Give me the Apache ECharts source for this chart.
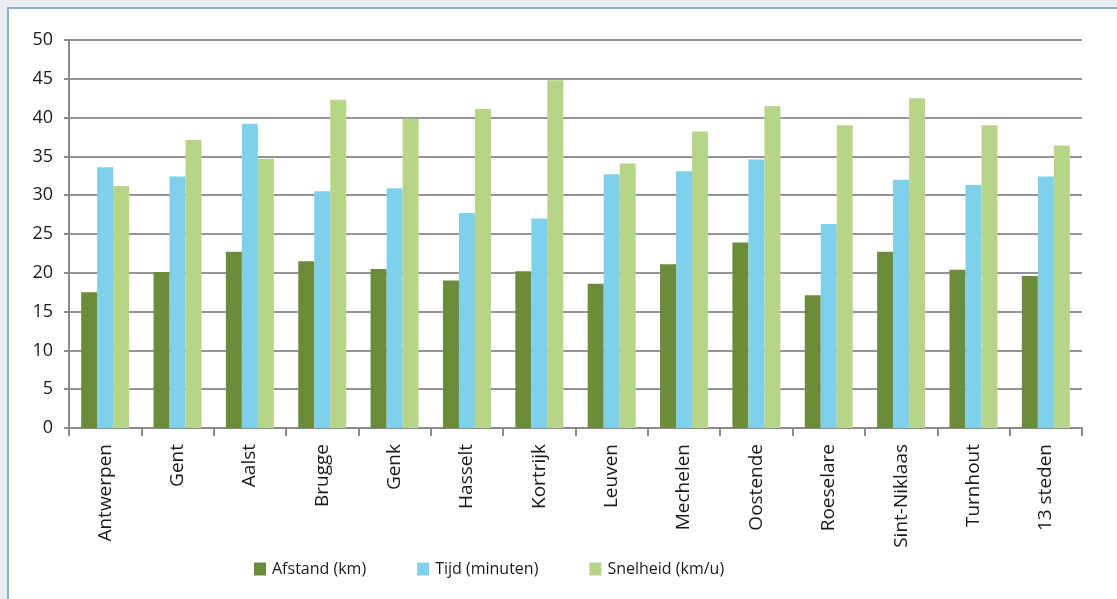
<!DOCTYPE html>
<html>
<head>
<meta charset="utf-8">
<script src="https://cdn.jsdelivr.net/npm/echarts@6/dist/echarts.min.js"></script>
<style>
  html, body { margin: 0; padding: 0; width: 1117px; height: 599px; overflow: hidden; background: #e9edf0; }
  #panel { position: absolute; left: 7px; top: 7px; width: 1200px; height: 700px; background: #ffffff; border-left: 2px solid #86b4c6; border-top: 2px solid #86b4c6; }
  #chart { position: absolute; left: 0; top: 0; width: 1117px; height: 599px; }
</style>
</head>
<body>
<div id="panel"></div>
<div id="chart"></div>
<script>
const categories = ['Antwerpen', 'Gent', 'Aalst', 'Brugge', 'Genk', 'Hasselt', 'Kortrijk', 'Leuven', 'Mechelen', 'Oostende', 'Roeselare', 'Sint-Niklaas', 'Turnhout', '13 steden'];
const afstand = [17.5, 20.1, 22.7, 21.5, 20.5, 19.0, 20.2, 18.6, 21.1, 23.9, 17.1, 22.7, 20.4, 19.6];
const tijd = [33.6, 32.4, 39.2, 30.5, 30.9, 27.7, 27.0, 32.7, 33.1, 34.6, 26.3, 32.0, 31.3, 32.4];
const snelheid = [31.2, 37.1, 34.7, 42.3, 39.9, 41.1, 44.8, 34.1, 38.2, 41.5, 39.0, 42.5, 39.0, 36.4];
const seriesNames = ['Afstand (km)', 'Tijd (minuten)', 'Snelheid (km/u)'];
const colors = ['#6b8c3a', '#7fd0ea', '#b8d488'];

const font = '"Open Sans", "Noto Sans", sans-serif';
const chart = echarts.init(document.getElementById('chart'), null, { renderer: 'canvas' });
const mk = (name, data, i) => ({
  name: name, type: 'bar', data: data, barWidth: 16, barGap: '0%',
  itemStyle: { color: colors[i] }
});
chart.setOption({
  backgroundColor: 'transparent',
  animation: false,
  grid: { left: 69, right: 35, top: 40, bottom: 171, containLabel: false },
  legend: {
    data: seriesNames, left: 249, top: 556, itemWidth: 12, itemHeight: 13, itemGap: 51,
    icon: 'rect',
    textStyle: { fontFamily: font, fontSize: 16, color: '#1a1a1a', padding: [0, 0, 0, 1] }
  },
  xAxis: {
    type: 'category', data: categories,
    axisLine: { lineStyle: { color: '#8a8a8a', width: 2 } },
    axisTick: { show: true, length: 8, lineStyle: { color: '#8a8a8a', width: 2 } },
    axisLabel: { rotate: 90, margin: 16, fontFamily: font, fontSize: 19, color: '#1a1a1a', interval: 0 }
  },
  yAxis: {
    type: 'value', min: 0, max: 50, interval: 5,
    axisLine: { show: true, lineStyle: { color: '#8a8a8a', width: 2 } },
    axisTick: { show: true, length: 5, lineStyle: { color: '#8a8a8a', width: 2 } },
    axisLabel: { margin: 16, fontFamily: font, fontSize: 18, color: '#1a1a1a' },
    splitLine: { lineStyle: { color: '#939393', width: 2 } }
  },
  series: [mk(seriesNames[0], afstand, 0), mk(seriesNames[1], tijd, 1), mk(seriesNames[2], snelheid, 2)]
});
</script>
</body>
</html>
